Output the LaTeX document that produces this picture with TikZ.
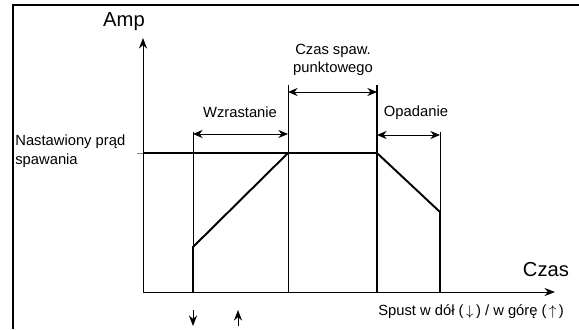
\documentclass[tikz,border=0pt]{standalone}
\usepackage{fontspec}
\setmainfont{Liberation Sans}
\usetikzlibrary{arrows.meta,positioning}
\tikzset{
    frameline/.style={line width=1.3pt,draw=black},
    thinline/.style={line width=0.55pt,draw=black},
    thickline/.style={line width=1.1pt,draw=black},
    dimarrow/.style={thinline,{Stealth[length=5.5pt,width=4.6pt]}-{Stealth[length=5.5pt,width=4.6pt]}},
    axisarrow/.style={thinline,-{Stealth[length=6pt,width=4.6pt]}},
    every node/.style={font=\fontsize{8.4}{10.5}\selectfont,inner sep=0pt},
    biglabel/.style={font=\fontsize{11.5}{13}\selectfont}
}

\begin{document}
\begin{tikzpicture}[x=0.02cm,y=-0.02cm]
  \useasboundingbox (0,0) rectangle (579,329);

  % 外框
  \coordinate (F0) at (13,329);
  \coordinate (F1) at (13,5);
  \coordinate (F2) at (579,5);
  \draw[frameline] (F0)--(F1)--(F2);

  % 坐标轴
  \coordinate (O) at (143,292);
  \coordinate (Ytop) at (143,38);
  \coordinate (Xend) at (555,292);
  \draw[axisarrow] (O)--(Ytop);
  \draw[axisarrow] (O)--(Xend);

  % 时间点
  \coordinate (T1) at (193,292);
  \coordinate (T1low) at (193,247);
  \coordinate (T1top) at (193,132);
  \coordinate (T2) at (288,292);
  \coordinate (T2set) at (288,153);
  \coordinate (T2top) at (288,85);
  \coordinate (T3) at (377,292);
  \coordinate (T3set) at (377,153);
  \coordinate (T3top) at (377,85);
  \coordinate (T4) at (440,292);
  \coordinate (T4low) at (440,212);
  \coordinate (T4top) at (440,132);
  \coordinate (Ltick) at (137,153);
  \coordinate (Lset) at (143,153);

  % 辅助竖线
  \draw[thinline] (T1low)--(T1top);
  \draw[thinline] (T2)--(T2top);
  \draw[thickline] (T3)--(T3top);
  \draw[thinline] (T4low)--(T4top);

  % 电流曲线
  \draw[thinline,gray] (Ltick)--(Lset);
  \draw[thickline] (Lset)--(T2set);
  \draw[thickline] (T1)--(T1low)--(T2set)--(T3set)--(T4low)--(T4);

  % 尺寸箭头
  \coordinate (W1) at (193,134);
  \coordinate (W2) at (288,134);
  \coordinate (C1) at (288,92);
  \coordinate (C2) at (377,92);
  \coordinate (P1) at (377,135);
  \coordinate (P2) at (440,135);
  \draw[dimarrow] (W1)--(W2);
  \draw[dimarrow] (C1)--(C2);
  \draw[dimarrow] (P1)--(P2);

  % 扳机箭头
  \coordinate (D1) at (193,310);
  \coordinate (D2) at (193,326);
  \coordinate (U1) at (238,326);
  \coordinate (U2) at (238,310);
  \draw[axisarrow] (D1)--(D2);
  \draw[axisarrow] (U1)--(U2);

  % 文字
  \node[biglabel] (amp) at (124,22) {Amp};
  \node[biglabel] (czas) at (546,270) {Czas};
  \node[anchor=west,align=left] (prad) at (15,151) {Nastawiony prąd\\spawania};
  \node (wzr) at (240,112) {Wzrastanie};
  \node[align=center] (spaw) at (333,60) {Czas spaw.\\punktowego};
  \node (opad) at (416,113) {Opadanie};
  \node[anchor=west] (spust) at (378,312) {Spust w dół (\,$\downarrow$\,) / w górę (\,$\uparrow$\,)};
\end{tikzpicture}
\end{document}
